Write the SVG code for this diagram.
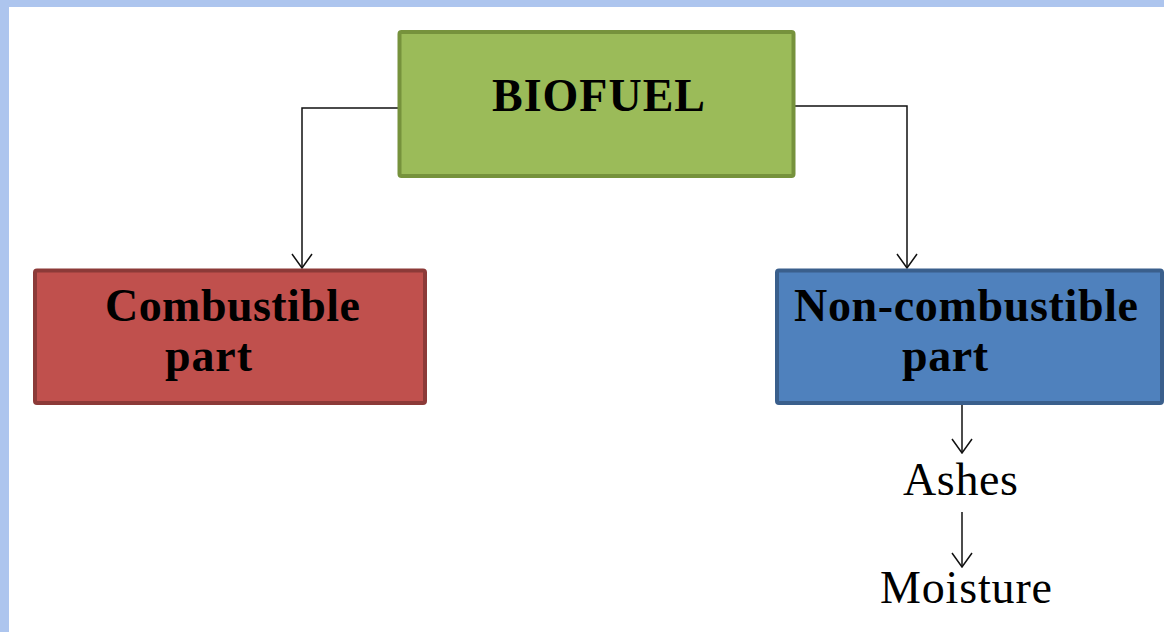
<svg xmlns="http://www.w3.org/2000/svg" width="1164" height="632" viewBox="0 0 1164 632">
  <style>
    .box { stroke-width: 4; }
    .title { font-family: "Liberation Serif", "Times New Roman", serif; font-weight: bold; font-size: 46px; fill: #000; }
    .plain { font-family: "Liberation Serif", "Times New Roman", serif; font-size: 46px; fill: #000; }
    .link { fill: none; stroke: #111; stroke-width: 1.5; }
  </style>
  <defs>
    <!-- open V arrowhead, drawn pointing along +x -->
    <marker id="arrow" viewBox="0 0 16 24" refX="15" refY="12" markerWidth="16" markerHeight="24" markerUnits="userSpaceOnUse" orient="auto">
      <path d="M1,2 L15,12 L1,22" fill="none" stroke="#111" stroke-width="1.5"/>
    </marker>
  </defs>

  <!-- page frame -->
  <rect x="0" y="0" width="1164" height="632" fill="#ADC5EE"/>
  <rect x="9" y="7" width="1155" height="625" fill="#FFFFFF"/>

  <!-- connectors -->
  <g id="connectors">
    <path class="link" d="M399,108 H302 V268" marker-end="url(#arrow)"/>
    <path class="link" d="M795,106 H907 V268" marker-end="url(#arrow)"/>
    <path class="link" d="M962,404 V453" marker-end="url(#arrow)"/>
    <path class="link" d="M962,512 V567" marker-end="url(#arrow)"/>
  </g>

  <g id="biofuel">
    <rect class="box" x="399.5" y="32" width="394" height="144" rx="2" fill="#9BBB59" stroke="#76923C"/>
    <text class="title" x="492" y="111" textLength="213" lengthAdjust="spacing">BIOFUEL</text>
  </g>

  <g id="combustible">
    <rect class="box" x="35" y="270.5" width="390" height="132.5" rx="2" fill="#C0504D" stroke="#8C3A38"/>
    <text class="title" x="105" y="321" textLength="255" lengthAdjust="spacing">Combustible</text>
    <text class="title" x="165" y="371" textLength="87" lengthAdjust="spacing">part</text>
  </g>

  <g id="non-combustible">
    <rect class="box" x="777" y="270.5" width="385" height="132.5" rx="2" fill="#4F81BD" stroke="#3A5F8C"/>
    <text class="title" x="794" y="321" textLength="344" lengthAdjust="spacing">Non-combustible</text>
    <text class="title" x="902" y="371" textLength="86" lengthAdjust="spacing">part</text>
  </g>

  <g id="ashes">
    <text class="plain" x="903" y="495" textLength="115" lengthAdjust="spacing">Ashes</text>
  </g>

  <g id="moisture">
    <text class="plain" x="880" y="603" textLength="172" lengthAdjust="spacing">Moisture</text>
  </g>
</svg>
